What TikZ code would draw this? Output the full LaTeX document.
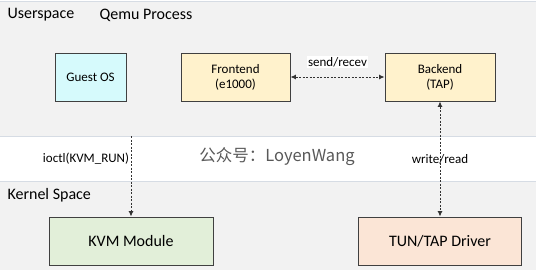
\documentclass[tikz,border=0pt]{standalone}
\usepackage{fontspec}
\setmainfont{Carlito}
\newfontfamily\cjkfont{Noto Sans CJK SC}
\usepackage{tikz}
\usetikzlibrary{arrows.meta,positioning}
\usepackage{xcolor}
\definecolor{spacegray}{RGB}{242,242,242}
\definecolor{spaceline}{RGB}{214,220,228}
\definecolor{boxline}{RGB}{64,64,64}
\definecolor{guestcyan}{RGB}{214,250,252}
\definecolor{qemuyellow}{RGB}{255,242,204}
\definecolor{kvmgreen}{RGB}{226,239,217}
\definecolor{tunorange}{RGB}{251,229,214}

\begin{document}
\begin{tikzpicture}[x=1pt,y=-1pt,
    region/.style={fill=spacegray,draw=spaceline,line width=0.8pt},
    block/.style={draw=boxline,line width=0.9pt,minimum height=48pt,align=center,
      inner sep=0pt,font=\fontsize{13}{15}\selectfont},
    bigblock/.style={block,font=\fontsize{16}{18}\selectfont},
    flow/.style={draw=black!80,line width=0.9pt,dash pattern=on 2.2pt off 1.3pt,
      -{Latex[length=5.5pt,width=5pt]}},
    twoway/.style={flow,{Latex[length=5.5pt,width=5pt]}-{Latex[length=5.5pt,width=5pt]}},
    flowlabel/.style={font=\fontsize{13}{15}\selectfont,inner sep=1pt},
    spacelabel/.style={font=\fontsize{16}{18}\selectfont,anchor=west}]
    \useasboundingbox (0,0) rectangle (536,269);
    % user and kernel space bands
    \fill[white] (0,0) rectangle (536,269);
    \draw[region] (-2,1) rectangle (538,136);
    \draw[region] (-2,181) rectangle (538,271);
    \node[spacelabel] (userspace) at (4,15) {Userspace};
    \node[spacelabel] (qemu) at (96,15) {Qemu Process};
    \node[spacelabel] (kernelspace) at (4,195) {Kernel Space};
    % qemu side
    \node[block,fill=guestcyan,minimum width=71pt] (guestos) at (90.5,77) {Guest OS};
    \node[block,fill=qemuyellow,minimum width=109pt] (frontend) at (235.5,77) {Frontend\\(e1000)};
    \node[block,fill=qemuyellow,minimum width=110pt] (backend) at (440,77) {Backend\\(TAP)};
    % kernel side
    \node[bigblock,fill=kvmgreen,minimum width=164pt] (kvm) at (131,241) {KVM Module};
    \node[bigblock,fill=tunorange,minimum width=163pt] (tuntap) at (440,241) {TUN/TAP Driver};
    % watermark
    \node[text=black!65,font=\cjkfont\fontsize{16.5}{18}\selectfont] (wechat) at (277,157) {公众号：LoyenWang};
    % links
    \coordinate (ioctlstart) at (131,136);
    \draw[flow] (ioctlstart) -- (kvm.north)
      node[pos=0.28,left,flowlabel,inner sep=1.5pt] {ioctl(KVM\_RUN)};
    \draw[twoway] (frontend) -- (backend)
      node[midway,above=9pt,flowlabel,fill=white] {send/recev};
    \draw[twoway] (backend) -- (tuntap)
      node[pos=0.5,flowlabel] {write/read};
\end{tikzpicture}
\end{document}
